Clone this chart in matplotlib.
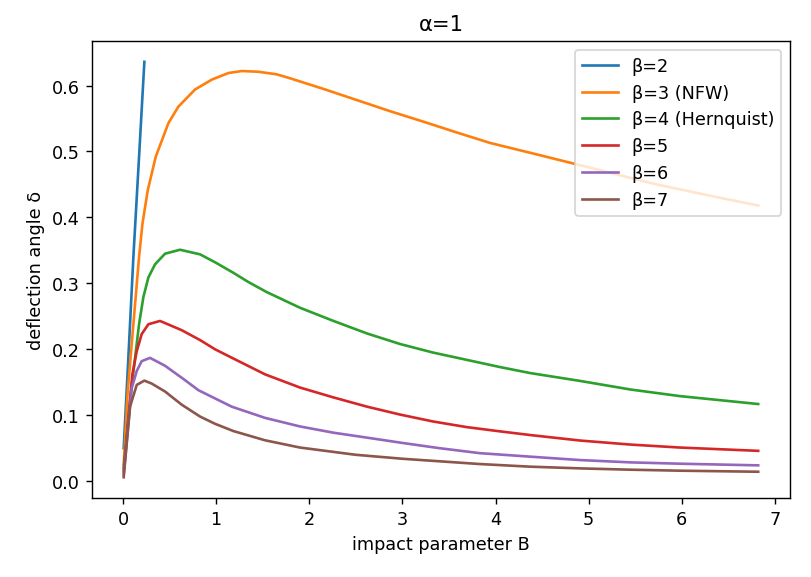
import matplotlib
matplotlib.use("Agg")
import matplotlib.pyplot as plt

# beta = 2 (only the first few samples)
x2 = [0.007, 0.057, 0.111, 0.172, 0.229]
y2 = [0.05, 0.187, 0.34, 0.492, 0.636]

# beta = 3 (NFW)
x3 = [0.007, 0.05, 0.111, 0.172, 0.208, 0.265, 0.351, 0.487, 0.594, 0.773, 0.953,
      1.131, 1.275, 1.45, 1.65, 1.794, 2.15, 2.51, 2.87, 3.23, 3.58, 3.94, 4.43,
      5.0, 5.7, 6.3, 6.82]
y3 = [0.025, 0.136, 0.238, 0.340, 0.390, 0.441, 0.492, 0.543, 0.568, 0.594, 0.609,
      0.619, 0.622, 0.621, 0.617, 0.611, 0.595, 0.578, 0.561, 0.545, 0.529, 0.513,
      0.496, 0.476, 0.451, 0.433, 0.418]

# beta = 4 (Hernquist)
x4 = [0.007, 0.086, 0.129, 0.172, 0.218, 0.272, 0.344, 0.451, 0.612, 0.827, 0.988,
      1.185, 1.346, 1.54, 1.9, 2.26, 2.62, 2.975, 3.33, 3.69, 4.05, 4.37, 4.91,
      5.45, 5.98, 6.82]
y4 = [0.02, 0.136, 0.187, 0.238, 0.279, 0.309, 0.329, 0.345, 0.351, 0.344, 0.332,
      0.316, 0.302, 0.287, 0.263, 0.243, 0.224, 0.208, 0.195, 0.184, 0.173, 0.164,
      0.152, 0.139, 0.129, 0.117]

# beta = 5
x5 = [0.007, 0.10, 0.147, 0.2, 0.272, 0.397, 0.63, 0.827, 0.988, 1.185, 1.525, 1.9,
      2.26, 2.62, 2.975, 3.33, 3.69, 4.05, 4.37, 4.91, 5.45, 5.98, 6.82]
y5 = [0.015, 0.162, 0.197, 0.223, 0.238, 0.243, 0.229, 0.214, 0.200, 0.186, 0.162,
      0.142, 0.127, 0.113, 0.101, 0.0905, 0.082, 0.0755, 0.070, 0.0616, 0.0555,
      0.051, 0.046]

# beta = 6
x6 = [0.007, 0.093, 0.147, 0.2, 0.29, 0.451, 0.648, 0.809, 1.167, 1.525, 1.9, 2.26,
      2.62, 3.0, 3.4, 3.83, 4.37, 4.91, 5.45, 5.98, 6.82]
y6 = [0.01, 0.141, 0.167, 0.182, 0.187, 0.175, 0.155, 0.138, 0.113, 0.096, 0.083,
      0.0735, 0.066, 0.058, 0.050, 0.0425, 0.0372, 0.032, 0.0285, 0.0265, 0.024]

# beta = 7
x7 = [0.007, 0.075, 0.147, 0.229, 0.308, 0.451, 0.63, 0.827, 0.988, 1.185, 1.525,
      1.9, 2.5, 3.0, 3.83, 4.37, 4.91, 5.45, 5.98, 6.82]
y7 = [0.006, 0.113, 0.146, 0.1525, 0.148, 0.136, 0.116, 0.098, 0.087, 0.076, 0.062,
      0.051, 0.040, 0.034, 0.026, 0.022, 0.0194, 0.0174, 0.0159, 0.0143]

labels = ['β=2', 'β=3 (NFW)', 'β=4 (Hernquist)', 'β=5', 'β=6', 'β=7']

fig = plt.figure(figsize=(6.4, 4.561), dpi=126.72)
ax = fig.add_axes([0.1134, 0.1367, 0.8606, 0.7906])

for xs, ys, lab in zip([x2, x3, x4, x5, x6, x7], [y2, y3, y4, y5, y6, y7], labels):
    ax.plot(xs, ys, label=lab)

ax.set_title('α=1')
ax.set_xlabel('impact parameter B')
ax.set_ylabel('deflection angle δ')
ax.legend(loc='upper right')

fig.savefig('out.png', dpi=126.72)
